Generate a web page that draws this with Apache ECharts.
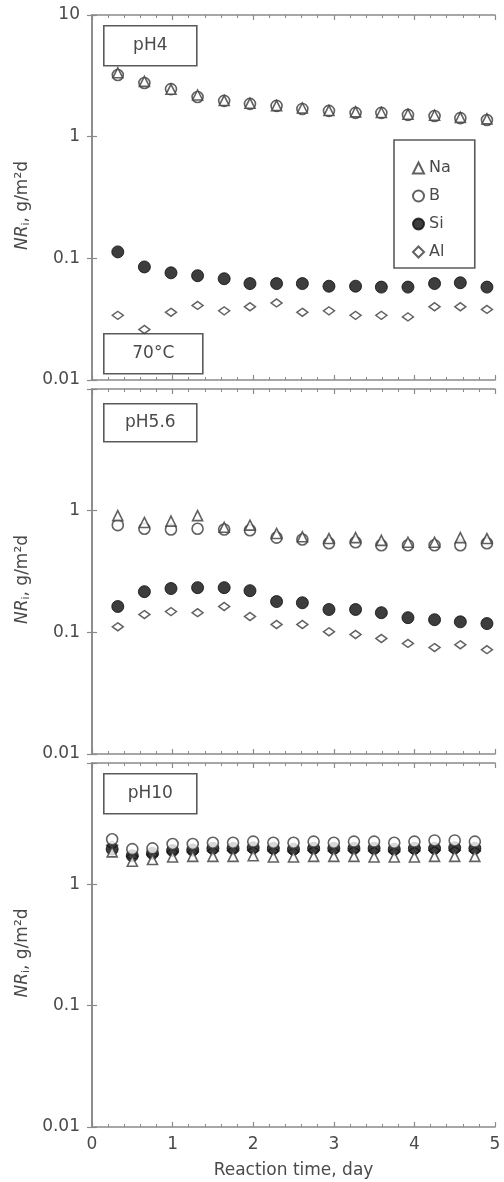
<!DOCTYPE html>
<html>
<head>
<meta charset="utf-8">
<script src="https://cdn.jsdelivr.net/npm/echarts@6/dist/echarts.min.js"></script>
<style>
  html, body { margin: 0; padding: 0; background: #fff; }
  #chart { width: 504px; height: 1182px; }
</style>
</head>
<body>
<div id="chart"></div>
<script>
// Reaction times (days) of the sampling points
const timesAcid = [0.32, 0.65, 0.98, 1.31, 1.64, 1.96, 2.29, 2.61, 2.94, 3.27, 3.59, 3.92, 4.25, 4.57, 4.90];
const timesAlk = [0.25, 0.50, 0.75, 1.00, 1.25, 1.50, 1.75, 2.00, 2.25, 2.50, 2.75, 3.00, 3.25, 3.50, 3.75, 4.00, 4.25, 4.50, 4.75];

// Normalised release rates NR_i (g/m2/d), pH 4
const pH4Na = [3.35, 2.85, 2.45, 2.20, 1.98, 1.88, 1.80, 1.72, 1.64, 1.60, 1.58, 1.53, 1.50, 1.44, 1.40];
const pH4B  = [3.21, 2.76, 2.46, 2.12, 1.97, 1.86, 1.79, 1.69, 1.63, 1.57, 1.57, 1.51, 1.48, 1.42, 1.37];
const pH4Si = [0.113, 0.085, 0.076, 0.072, 0.068, 0.062, 0.062, 0.062, 0.059, 0.059, 0.058, 0.058, 0.062, 0.063, 0.058];
const pH4Al = [0.034, 0.026, 0.036, 0.041, 0.037, 0.040, 0.043, 0.036, 0.037, 0.034, 0.034, 0.033, 0.040, 0.040, 0.038];

// pH 5.6
const pH56Na = [0.91, 0.80, 0.82, 0.91, 0.73, 0.76, 0.65, 0.61, 0.59, 0.60, 0.57, 0.55, 0.55, 0.60, 0.59];
const pH56B  = [0.76, 0.71, 0.70, 0.71, 0.70, 0.69, 0.60, 0.58, 0.54, 0.55, 0.52, 0.52, 0.52, 0.52, 0.54];
const pH56Si = [0.163, 0.216, 0.229, 0.233, 0.233, 0.220, 0.179, 0.175, 0.154, 0.154, 0.145, 0.132, 0.127, 0.122, 0.118];
const pH56Al = [0.111, 0.140, 0.148, 0.145, 0.163, 0.135, 0.116, 0.116, 0.101, 0.096, 0.089, 0.081, 0.075, 0.079, 0.072];

// pH 10
const pH10Na = [1.85, 1.55, 1.60, 1.68, 1.70, 1.70, 1.70, 1.72, 1.68, 1.68, 1.70, 1.70, 1.70, 1.68, 1.68, 1.68, 1.70, 1.70, 1.70];
const pH10B  = [2.35, 1.95, 1.98, 2.15, 2.15, 2.20, 2.20, 2.25, 2.20, 2.20, 2.25, 2.20, 2.25, 2.25, 2.20, 2.25, 2.30, 2.30, 2.25];
const pH10Si = [1.95, 1.72, 1.80, 1.90, 1.92, 1.98, 1.98, 2.00, 1.98, 1.95, 1.98, 1.98, 1.98, 1.98, 1.95, 1.98, 1.98, 2.00, 1.98];
const pH10Al = [2.10, 1.70, 1.75, 1.85, 1.85, 1.88, 1.90, 1.90, 1.88, 1.86, 1.90, 1.88, 1.90, 1.88, 1.86, 1.88, 1.90, 1.90, 1.88];

const elements = ['Na', 'B', 'Si', 'Al'];
const panelLabels = ['pH4', 'pH5.6', 'pH10'];
const xTickLabels = ['0', '1', '2', '3', '4', '5'];
const xTitle = 'Reaction time, day';

const panels = [
  { times: timesAcid, Na: pH4Na, B: pH4B, Si: pH4Si, Al: pH4Al },
  { times: timesAcid, Na: pH56Na, B: pH56B, Si: pH56Si, Al: pH56Al },
  { times: timesAlk, Na: pH10Na, B: pH10B, Si: pH10Si, Al: pH10Al }
];

const FONT = 'DejaVu Sans';
const AXIS = '#8a8a8a';
const TEXT = '#4a4a4a';
const EDGE = '#3a3a3a';

const gridBoxes = [
  { top: 15, height: 365 },
  { top: 389, height: 365 },
  { top: 763, height: 364 }
];

const markerStyle = {
  Na: { symbol: 'triangle', symbolSize: 10, itemStyle: { color: '#fff', borderColor: EDGE, borderWidth: 1.6 } },
  B:  { symbol: 'circle', symbolSize: 11, itemStyle: { color: '#fff', borderColor: EDGE, borderWidth: 1.6 } },
  Si: { symbol: 'circle', symbolSize: 12, itemStyle: { color: '#0d0d0d', borderColor: '#0d0d0d', borderWidth: 1 } },
  Al: { symbol: 'diamond', symbolSize: [11, 8], itemStyle: { color: '#fff', borderColor: EDGE, borderWidth: 1.5 } }
};
// drawing order: Al beneath, then Si, then the hollow B circles and Na triangles
const drawOrder = ['Al', 'Si', 'B', 'Na'];

const grid = [], xAxis = [], yAxis = [], series = [];

panels.forEach((p, i) => {
  grid.push({ left: 92, right: 9, top: gridBoxes[i].top, height: gridBoxes[i].height, show: false });
  const tickCommon = {
    axisLine: { show: true, lineStyle: { color: AXIS, width: 1.6 } },
    axisTick: { show: true, inside: true, length: 5, lineStyle: { color: AXIS, width: 1.2 } },
    splitLine: { show: false }
  };
  const isLast = i === panels.length - 1;
  xAxis.push(Object.assign({
    type: 'value', gridIndex: i, position: 'bottom', min: 0, max: 5, interval: 1,
    minorTick: { show: true, splitNumber: 5, length: 3, lineStyle: { color: AXIS, width: 1 } },
    axisLabel: {
      show: isLast, margin: 9, color: TEXT, fontFamily: FONT, fontSize: 17,
      formatter: v => xTickLabels[Math.round(v)] ?? ''
    },
    name: isLast ? xTitle : '', nameLocation: 'middle', nameGap: 35,
    nameTextStyle: { color: TEXT, fontFamily: FONT, fontSize: 17 }
  }, tickCommon));
  xAxis.push(Object.assign({
    type: 'value', gridIndex: i, position: 'top', min: 0, max: 5, interval: 1,
    minorTick: { show: true, splitNumber: 5, length: 3, lineStyle: { color: AXIS, width: 1 } },
    axisLabel: { show: false }
  }, tickCommon));
  yAxis.push(Object.assign({
    type: 'log', logBase: 10, gridIndex: i, position: 'left', min: 0.01, max: 10, splitNumber: 3,
    axisLabel: {
      margin: 12, color: TEXT, fontFamily: FONT, fontSize: 17, showMaxLabel: true, showMinLabel: true,
      formatter: v => {
        const n = Number(v.toPrecision(3));
        if (n >= 10 && i > 0) return '';
        return String(n);
      }
    },
    name: '{it|NR}{sub|i}{n|, g/m²d}', nameLocation: 'middle', nameGap: 58,
    nameTextStyle: {
      color: TEXT, fontFamily: FONT, fontSize: 17, padding: [0, 16, 0, 0],
      rich: {
        it: { fontStyle: 'italic', fontFamily: FONT, fontSize: 17, color: TEXT },
        sub: { fontFamily: FONT, fontSize: 11, color: TEXT, verticalAlign: 'bottom', padding: [6, 0, 0, 0] },
        n: { fontFamily: FONT, fontSize: 17, color: TEXT }
      }
    }
  }, tickCommon));
  yAxis.push(Object.assign({
    type: 'log', logBase: 10, gridIndex: i, position: 'right', min: 0.01, max: 10, splitNumber: 3,
    axisLabel: { show: false }
  }, tickCommon));

  drawOrder.forEach(el => {
    const st = markerStyle[el];
    series.push({
      type: 'scatter', name: el, xAxisIndex: 2 * i, yAxisIndex: 2 * i,
      symbol: st.symbol, symbolSize: st.symbolSize, itemStyle: st.itemStyle,
      data: p.times.map((t, k) => [t, p[el][k]]),
      emphasis: { disabled: true }, silent: true, z: 3
    });
  });
});

// Framed text annotations inside the panels
function labelBox(x, y, w, h, text) {
  return {
    type: 'group', left: x, top: y, z: 10,
    children: [
      { type: 'rect', shape: { x: 0, y: 0, width: w, height: h }, style: { fill: '#fff', stroke: '#5a5a5a', lineWidth: 1.6 } },
      { type: 'text', x: w / 2, y: h / 2, style: { text: text, fill: TEXT, font: '17px "DejaVu Sans"', align: 'center', verticalAlign: 'middle' } }
    ]
  };
}

const option = {
  backgroundColor: '#fff',
  animation: false,
  grid, xAxis, yAxis, series,
  legend: {
    data: elements, orient: 'vertical', left: 394, top: 140,
    selectedMode: false,
    itemWidth: 11, itemHeight: 11, itemGap: 12,
    padding: [20, 24, 8, 18],
    borderColor: '#5a5a5a', borderWidth: 1.6, backgroundColor: '#fff',
    textStyle: { color: TEXT, fontFamily: FONT, fontSize: 16 }
  },
  graphic: [
    labelBox(103, 25, 93, 40, panelLabels[0]),
    labelBox(103, 333, 99, 40, '70°C'),
    labelBox(103, 403, 93, 38, panelLabels[1]),
    labelBox(103, 773, 93, 40, panelLabels[2])
  ]
};

const chart = echarts.init(document.getElementById('chart'), null, { renderer: 'canvas' });
chart.setOption(option);
</script>
</body>
</html>
